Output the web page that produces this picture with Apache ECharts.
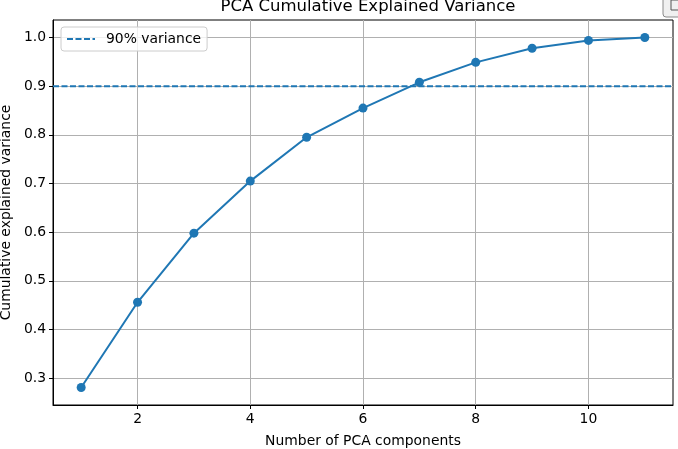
<!DOCTYPE html>
<html>
<head>
    <meta charset="UTF-8">
    <title>PCA Cumulative Explained Variance</title>
    <script src="https://cdn.jsdelivr.net/npm/echarts@6/dist/echarts.min.js"></script>
    <style>
        html, body { margin: 0; padding: 0; background: #fff; }
        #main { width: 678px; height: 449px; }
    </style>
</head>
<body>
<div id="main"></div>
<script type="text/javascript">
// data
var components = [1, 2, 3, 4, 5, 6, 7, 8, 9, 10, 11];
var cumVariance = [0.281, 0.456, 0.598, 0.705, 0.795, 0.855, 0.908, 0.949, 0.978, 0.994, 1.0];
var threshold = 0.9;
var xTicks = [2, 4, 6, 8, 10];
var yTicks = [0.3, 0.4, 0.5, 0.6, 0.7, 0.8, 0.9, 1.0];
var xRange = [0.5, 11.5];
var yRange = [0.245, 1.036];

var font = 'DejaVu Sans';
var blue = '#1f77b4';
var fs = 13.9;

var lineData = components.map(function (c, i) { return [c, cumVariance[i]]; });
var threshData = [[xRange[0], threshold], [xRange[1], threshold]];

var myChart = echarts.init(document.getElementById('main'));
var option = {
    animation: false,
    backgroundColor: '#fff',
    textStyle: { fontFamily: font },
    title: {
        text: 'PCA Cumulative Explained Variance',
        left: 363,
        textAlign: 'center',
        top: -7,
        textStyle: { fontFamily: font, fontSize: 16.5, fontWeight: 'normal', color: '#000' }
    },
    legend: {
        data: ['90% variance'],
        left: 61,
        top: 27,
        padding: [5, 6, 5, 5],
        backgroundColor: 'rgba(255,255,255,0.8)',
        borderColor: '#cccccc',
        borderWidth: 1,
        borderRadius: 3,
        itemWidth: 28,
        itemHeight: 10,
        itemGap: 6,
        itemStyle: { opacity: 0 },
        textStyle: { fontFamily: font, fontSize: fs, color: '#000', padding: [0, 0, 0, 6] }
    },
    grid: {
        left: 53,
        right: 5,
        top: 20,
        bottom: 44,
        outerBoundsMode: 'none',
        containLabel: false,
        show: true,
        borderColor: '#000',
        borderWidth: 1
    },
    xAxis: {
        type: 'value',
        min: xRange[0],
        max: xRange[1],
        name: 'Number of PCA components',
        nameLocation: 'middle',
        nameGap: 29,
        nameTextStyle: { fontFamily: font, fontSize: fs, color: '#000' },
        axisLine: { show: true, onZero: false, lineStyle: { color: '#000', width: 1 } },
        axisTick: { show: true, length: 4, customValues: xTicks, lineStyle: { color: '#000' } },
        axisLabel: { customValues: xTicks, margin: 7, fontFamily: font, fontSize: fs, color: '#000' },
        splitLine: { show: true, lineStyle: { color: '#b0b0b0', width: 1 } }
    },
    yAxis: {
        type: 'value',
        min: yRange[0],
        max: yRange[1],
        name: 'Cumulative explained variance',
        nameLocation: 'middle',
        nameGap: 35,
        nameTextStyle: { fontFamily: font, fontSize: fs, color: '#000' },
        axisLine: { show: true, onZero: false, lineStyle: { color: '#000', width: 1 } },
        axisTick: { show: true, length: 4, customValues: yTicks, lineStyle: { color: '#000' } },
        axisLabel: {
            customValues: yTicks, margin: 7, fontFamily: font, fontSize: fs, color: '#000',
            formatter: function (v) { return v.toFixed(1); }
        },
        splitLine: { show: true, lineStyle: { color: '#b0b0b0', width: 1 } }
    },
    graphic: [
        {
            type: 'rect',
            shape: { x: 663, y: -4, width: 20, height: 21, r: 3 },
            style: { fill: '#f0f0f0', stroke: '#8a8a8a', lineWidth: 1 }
        },
        {
            type: 'rect',
            shape: { x: 671, y: 0, width: 8, height: 10 },
            style: { fill: 'none', stroke: '#555', lineWidth: 1 }
        }
    ],
    series: [
        {
            name: 'cumulative',
            type: 'line',
            data: lineData,
            symbol: 'circle',
            symbolSize: 9,
            itemStyle: { color: blue },
            lineStyle: { color: blue, width: 2 },
            z: 3
        },
        {
            name: '90% variance',
            type: 'line',
            data: threshData,
            symbol: 'none',
            itemStyle: { color: blue },
            lineStyle: { color: blue, width: 2, type: [6, 2.5] },
            z: 2
        }
    ]
};
myChart.setOption(option);
</script>
</body>
</html>
